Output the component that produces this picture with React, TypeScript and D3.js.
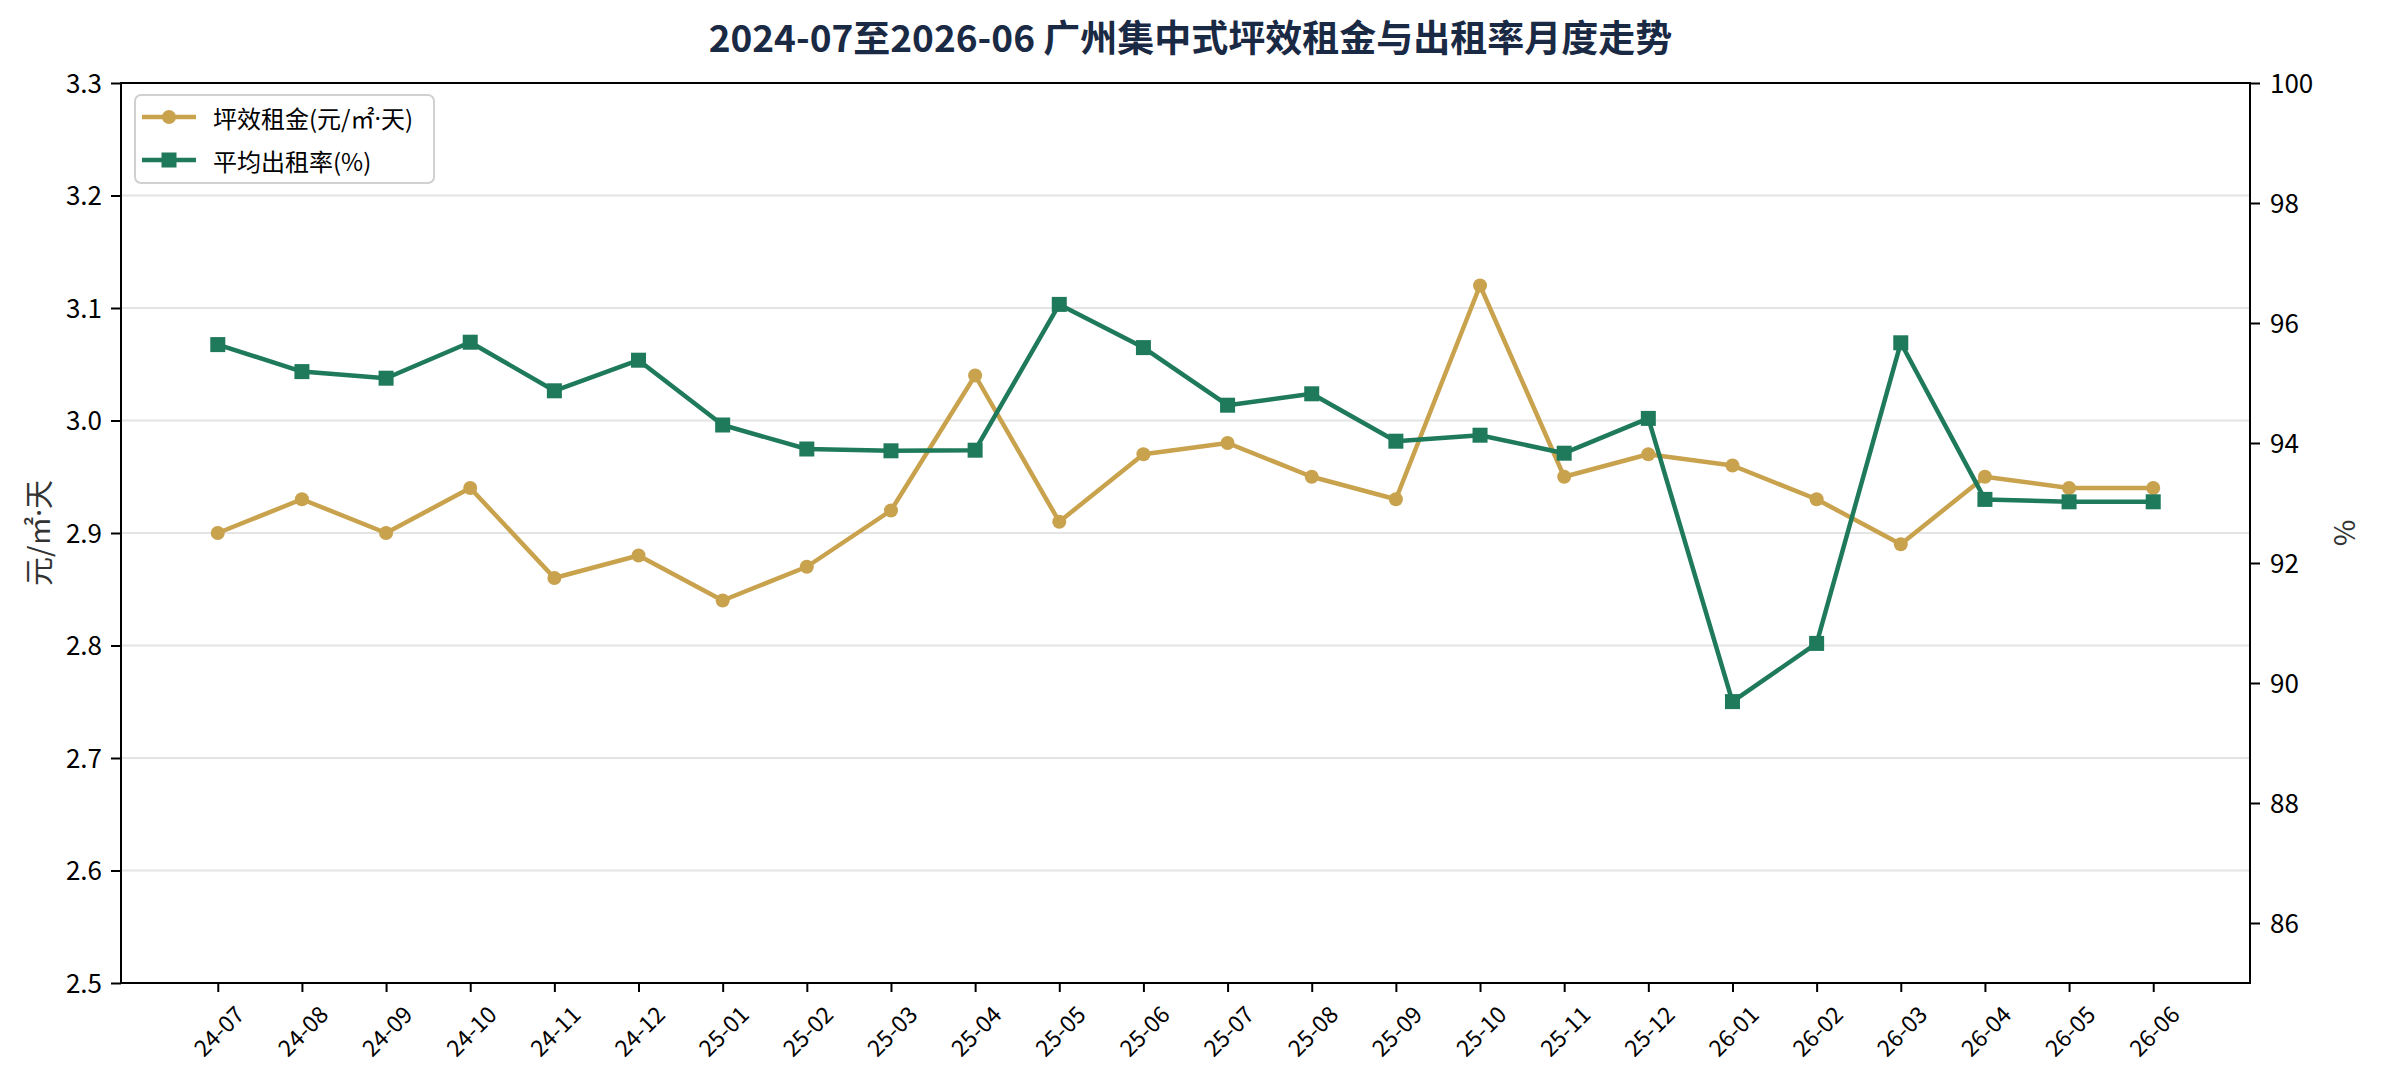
import { useRef, useEffect } from 'react';
import * as d3 from 'd3';

const months = [
    '24-07', '24-08', '24-09', '24-10', '24-11', '24-12',
    '25-01', '25-02', '25-03', '25-04', '25-05', '25-06',
    '25-07', '25-08', '25-09', '25-10', '25-11', '25-12',
    '26-01', '26-02', '26-03', '26-04', '26-05', '26-06',
];

// 坪效租金 (元/㎡·天)
const rent = [
    2.90, 2.93, 2.90, 2.94, 2.86, 2.88,
    2.84, 2.87, 2.92, 3.04, 2.91, 2.97,
    2.98, 2.95, 2.93, 3.12, 2.95, 2.97,
    2.96, 2.93, 2.89, 2.95, 2.94, 2.94,
];

// 平均出租率 (%)
const occupancy = [
    95.64, 95.19, 95.08, 95.68, 94.87, 95.38,
    94.30, 93.90, 93.87, 93.88, 96.31, 95.59,
    94.63, 94.82, 94.03, 94.13, 93.83, 94.41,
    89.69, 90.66, 95.67, 93.06, 93.02, 93.02,
];

const rentTicks = [2.5, 2.6, 2.7, 2.8, 2.9, 3.0, 3.1, 3.2, 3.3];
const occTicks = [86, 88, 90, 92, 94, 96, 98, 100];

const GOLD = '#C9A24E';
const GREEN = '#1E7A5A';
const FONT = '"Noto Sans CJK SC", "Noto Sans", sans-serif';
const LATIN = '"Noto Sans", sans-serif';

// the CJK font draws "·" full width, so that one glyph goes through a latin font
function fillLabel(sel: d3.Selection<SVGTextElement, any, any, any>, label: string) {
    label.split(/(·)/).forEach(part => {
        if (!part) return;
        const t = sel.append('tspan').text(part);
        if (part === '·') t.style('font-family', LATIN);
    });
}

export default function App() {
    const chartRef = useRef<SVGSVGElement>(null);

    useEffect(() => {
        if (!chartRef.current) return;

        const svg = d3.select(chartRef.current);
        svg.selectAll('*').remove();

        const width = 2381;
        const height = 1082;
        const margin = { top: 83, right: 131, bottom: 99, left: 121 };
        const innerWidth = width - margin.left - margin.right;
        const innerHeight = height - margin.top - margin.bottom;

        svg.attr('width', width).attr('height', height).style('font-family', FONT);

        svg.append('rect').attr('width', width).attr('height', height).attr('fill', '#fff');

        // Title
        svg.append('text')
            .attr('x', width / 2)
            .attr('y', 36)
            .attr('text-anchor', 'middle')
            .attr('dominant-baseline', 'central')
            .attr('fill', '#1B2A44')
            .attr('font-size', '37px')
            .attr('font-weight', '700')
            .text('2024-07至2026-06 广州集中式坪效租金与出租率月度走势');

        const g = svg.append('g').attr('transform', `translate(${margin.left},${margin.top})`);

        // Scales
        const x = d3.scaleLinear()
            .domain([-1.15, months.length - 1 + 1.15])
            .range([0, innerWidth]);

        const yL = d3.scaleLinear().domain([2.5, 3.3]).range([innerHeight, 0]);
        const yR = d3.scaleLinear().domain([85, 100]).range([innerHeight, 0]);

        // Grid (left axis ticks)
        g.selectAll('.grid')
            .data(rentTicks.slice(1, -1))
            .enter()
            .append('line')
            .attr('x1', 0)
            .attr('x2', innerWidth)
            .attr('y1', d => yL(d))
            .attr('y2', d => yL(d))
            .attr('stroke', '#E4E4E4')
            .attr('stroke-width', 2);

        // Lines
        const rentLine = d3.line<number>().x((_, i) => x(i)).y(d => yL(d));
        const occLine = d3.line<number>().x((_, i) => x(i)).y(d => yR(d));

        g.append('path')
            .datum(rent)
            .attr('d', rentLine)
            .attr('fill', 'none')
            .attr('stroke', GOLD)
            .attr('stroke-width', 4.5)
            .attr('stroke-linejoin', 'round');

        g.selectAll('.rent-dot')
            .data(rent)
            .enter()
            .append('circle')
            .attr('cx', (_, i) => x(i))
            .attr('cy', d => yL(d))
            .attr('r', 7)
            .attr('fill', GOLD);

        g.append('path')
            .datum(occupancy)
            .attr('d', occLine)
            .attr('fill', 'none')
            .attr('stroke', GREEN)
            .attr('stroke-width', 4.5)
            .attr('stroke-linejoin', 'round');

        g.selectAll('.occ-dot')
            .data(occupancy)
            .enter()
            .append('rect')
            .attr('x', (_, i) => x(i) - 7.5)
            .attr('y', d => yR(d) - 7.5)
            .attr('width', 15)
            .attr('height', 15)
            .attr('fill', GREEN);

        // Axes
        const styleAxis = (sel: d3.Selection<SVGGElement, unknown, null, undefined>) => {
            sel.selectAll('.domain').remove();
            sel.selectAll('.tick line').attr('stroke', '#000').attr('stroke-width', 2);
            sel.selectAll('.tick text')
                .attr('fill', '#000')
                .style('font-size', '26px')
                .style('font-family', FONT);
        };

        g.append('g')
            .call(d3.axisLeft(yL).tickValues(rentTicks).tickFormat(d3.format('.1f')).tickSize(10).tickPadding(9))
            .call(styleAxis)
            .selectAll('.tick text')
            .attr('dy', '0.35em');

        g.append('g')
            .attr('transform', `translate(${innerWidth},0)`)
            .call(d3.axisRight(yR).tickValues(occTicks).tickSize(10).tickPadding(10))
            .call(styleAxis)
            .selectAll('.tick text')
            .attr('dy', '0.35em');

        const xAxis = g.append('g')
            .attr('transform', `translate(0,${innerHeight})`)
            .call(d3.axisBottom(x).tickValues(d3.range(months.length)).tickFormat(() => '').tickSize(9))
            .call(styleAxis);
        xAxis.selectAll('.tick text').remove();

        g.selectAll('.x-label')
            .data(months)
            .enter()
            .append('text')
            .attr('transform', (_, i) => `translate(${x(i)},${innerHeight + 47}) rotate(-45)`)
            .attr('text-anchor', 'middle')
            .attr('dominant-baseline', 'central')
            .attr('fill', '#000')
            .attr('font-size', '23px')
            .text(d => d);

        // Frame
        g.append('rect')
            .attr('width', innerWidth)
            .attr('height', innerHeight)
            .attr('fill', 'none')
            .attr('stroke', '#000')
            .attr('stroke-width', 2);

        // Axis titles
        svg.append('text')
            .attr('transform', `translate(37,${margin.top + innerHeight / 2}) rotate(-90)`)
            .attr('text-anchor', 'middle')
            .attr('dominant-baseline', 'central')
            .attr('fill', '#333')
            .attr('font-size', '29px')
            .call(fillLabel, '元/㎡·天');

        svg.append('text')
            .attr('transform', `translate(2342,${margin.top + innerHeight / 2}) rotate(-90)`)
            .attr('text-anchor', 'middle')
            .attr('dominant-baseline', 'central')
            .attr('fill', '#333')
            .attr('font-size', '29px')
            .text('%');

        // Legend
        const legend = g.append('g').attr('transform', 'translate(14,12)');
        legend.append('rect')
            .attr('width', 299)
            .attr('height', 88)
            .attr('rx', 6)
            .attr('fill', '#fff')
            .attr('fill-opacity', 0.85)
            .attr('stroke', '#D0D0D0')
            .attr('stroke-width', 2);

        const items = [
            { label: '坪效租金(元/㎡·天)', color: GOLD, shape: 'circle' },
            { label: '平均出租率(%)', color: GREEN, shape: 'square' },
        ];

        const row = legend.selectAll('.item')
            .data(items)
            .enter()
            .append('g')
            .attr('transform', (_, i) => `translate(0,${22 + i * 43})`);

        row.append('line')
            .attr('x1', 7)
            .attr('x2', 61)
            .attr('stroke', d => d.color)
            .attr('stroke-width', 4.5);

        row.filter(d => d.shape === 'circle')
            .append('circle')
            .attr('cx', 34)
            .attr('r', 7)
            .attr('fill', d => d.color);

        row.filter(d => d.shape === 'square')
            .append('rect')
            .attr('x', 26.5)
            .attr('y', -7.5)
            .attr('width', 15)
            .attr('height', 15)
            .attr('fill', d => d.color);

        row.append('text')
            .attr('x', 78)
            .attr('dominant-baseline', 'central')
            .attr('fill', '#000')
            .attr('font-size', '24px')
            .each(function (d) {
                fillLabel(d3.select(this), d.label);
            });
    }, []);

    return (
        <div>
            <style>{'body{margin:0}'}</style>
            <svg ref={chartRef}></svg>
        </div>
    );
}
